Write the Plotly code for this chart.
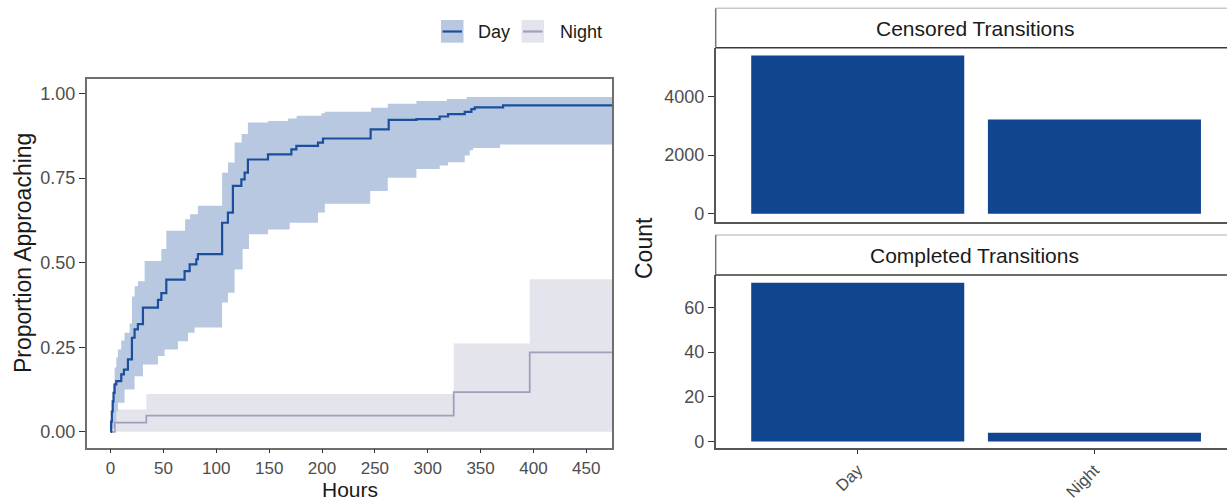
import plotly.graph_objects as go

# ---- Kaplan-Meier style cumulative curves (hours, proportion approaching) ----
day_t = [0, 0.5, 1.2, 2.0, 2.8, 3.8, 5.4, 10.1, 12.6, 16.4, 20.2, 22.7, 25.8, 30.6, 44.8,
         48.0, 52.7, 70.0, 74.8, 81.1, 82.6, 105.5, 111.0, 115.7, 123.7, 126.8, 129.9,
         148.9, 171.0, 175.7, 196.2, 200.9, 246.0, 263.1, 289.3, 311.3, 319.2, 335.0,
         341.3, 344.5, 371.3]
day_p = [0.0, 0.03, 0.06, 0.09, 0.115, 0.14, 0.15, 0.17, 0.184, 0.214, 0.278, 0.303, 0.318,
         0.367, 0.39, 0.41, 0.45, 0.475, 0.495, 0.51, 0.525, 0.618, 0.648, 0.727, 0.746,
         0.766, 0.805, 0.82, 0.835, 0.845, 0.855, 0.867, 0.894, 0.922, 0.924, 0.932, 0.939,
         0.946, 0.954, 0.959, 0.965]

day_hi_t = [0.5, 1.2, 2.2, 3.8, 5.4, 6.9, 10.0, 13.2, 18.0, 20.2, 22.7, 25.8, 32.2, 48.0,
            52.7, 70.5, 75.2, 82.6, 105.5, 111.0, 117.3, 124.0, 129.9, 148.9, 168.0, 176.0,
            199.4, 202.7, 246.4, 262.2, 289.3, 318.0, 336.8]
day_hi = [0.04, 0.09, 0.14, 0.19, 0.22, 0.243, 0.27, 0.293, 0.32, 0.40, 0.43, 0.445, 0.505,
          0.54, 0.594, 0.628, 0.643, 0.668, 0.766, 0.796, 0.855, 0.88, 0.914, 0.919, 0.926,
          0.934, 0.942, 0.946, 0.958, 0.97, 0.978, 0.984, 0.99]

day_lo_t = [0.5, 2.2, 3.8, 5.4, 6.9, 13.2, 22.7, 30.6, 44.8, 51.1, 63.7, 73.2, 79.5, 105.5,
            111.0, 117.3, 124.9, 130.9, 148.9, 169.4, 196.2, 202.7, 245.6, 262.2, 289.3,
            311.3, 319.2, 335.0, 339.7, 342.9, 368.5]
day_lo = [0.0, 0.01, 0.03, 0.06, 0.086, 0.125, 0.164, 0.199, 0.224, 0.243, 0.268, 0.293,
          0.308, 0.382, 0.411, 0.48, 0.54, 0.584, 0.598, 0.618, 0.648, 0.674, 0.712, 0.751,
          0.777, 0.787, 0.797, 0.817, 0.832, 0.839, 0.849]

night_t = [0, 4.0, 33.8, 324.6, 396.5]
night_p = [0.0, 0.027, 0.048, 0.117, 0.235]
night_ci_t = [3.5, 33.8, 324.6, 396.5]
night_hi = [0.066, 0.112, 0.261, 0.451]
night_lo = [0.0, 0.0, 0.0, 0.0]

follow_up_end = 480  # last follow-up hour, curves stay flat until here

# ---- transition counts ----
groups = ["Day", "Night"]
censored_counts = [5390, 3210]
completed_counts = [71, 4]

DAY_LINE = "#1b4f9c"
DAY_BAND = "#b8c8e0"
NIGHT_LINE = "#a29fbd"
NIGHT_BAND = "#e3e4ec"
BAR = "#12458f"
FONT = "Liberation Sans, Arial, sans-serif"
TICK_COL = "#4d4d4d"

W, H = 1227, 501


def px(x):
    return x / W


def py(y):
    return 1 - y / H


def ext(ts, vs):
    return list(ts) + [follow_up_end], list(vs) + [vs[-1]]


fig = go.Figure()

# confidence ribbons (lower edge first, upper filled to it)
for lo_t, lo, hi_t, hi, col in [
    (night_ci_t, night_lo, night_ci_t, night_hi, NIGHT_BAND),
    (day_lo_t, day_lo, day_hi_t, day_hi, DAY_BAND),
]:
    x0, y0 = ext(lo_t, lo)
    x1, y1 = ext(hi_t, hi)
    fig.add_trace(go.Scatter(x=x0, y=y0, mode="lines", line=dict(width=0, shape="hv"),
                             showlegend=False, hoverinfo="skip", xaxis="x", yaxis="y"))
    fig.add_trace(go.Scatter(x=x1, y=y1, mode="lines", line=dict(width=0, shape="hv"),
                             fill="tonexty", fillcolor=col, showlegend=False,
                             hoverinfo="skip", xaxis="x", yaxis="y"))

# step curves
for ts, ps, col, w, name in [(night_t, night_p, NIGHT_LINE, 1.8, "Night"),
                             (day_t, day_p, DAY_LINE, 2.2, "Day")]:
    xs, ys = ext(ts, ps)
    fig.add_trace(go.Scatter(x=xs, y=ys, mode="lines", name=name,
                             line=dict(color=col, width=w, shape="hv"),
                             showlegend=False, xaxis="x", yaxis="y"))

# bar panels
fig.add_trace(go.Bar(x=groups, y=censored_counts, width=0.9, marker=dict(color=BAR, line=dict(width=0)),
                     showlegend=False, xaxis="x2", yaxis="y2"))
fig.add_trace(go.Bar(x=groups, y=completed_counts, width=0.9, marker=dict(color=BAR, line=dict(width=0)),
                     showlegend=False, xaxis="x3", yaxis="y3"))

tickfont = dict(family=FONT, size=18, color=TICK_COL)
common = dict(showgrid=False, zeroline=False, automargin=False)

fig.update_layout(
    width=W, height=H,
    margin=dict(l=0, r=0, t=0, b=0, autoexpand=False),
    paper_bgcolor="white", plot_bgcolor="white",
    font=dict(family=FONT),
    showlegend=False,
    xaxis=dict(domain=[px(86.7), px(612.3)], range=[-22.6, 474.6],
               tickmode="array", tickvals=list(range(0, 451, 50)),
               ticks="outside", ticklen=4, tickwidth=1.4, tickcolor="#333",
               tickfont=dict(family=FONT, size=17, color=TICK_COL),
               showline=True, mirror=True, linecolor="#6e6e6e",
               linewidth=1.5, anchor="y", **common),
    yaxis=dict(domain=[py(447.7), py(79.3)], range=[-0.047, 1.042],
               tickmode="array", tickvals=[0, 0.25, 0.5, 0.75, 1.0],
               ticktext=["0.00", "0.25", "0.50", "0.75", "1.00"],
               ticks="outside", ticklen=6, tickwidth=1.4, tickcolor="#333",
               tickfont=tickfont, showline=True, mirror=True, linecolor="#6e6e6e",
               linewidth=1.5, anchor="x", **common),
    xaxis2=dict(domain=[px(715.7), 1.0], range=[-0.6, 1.56], type="category",
                showticklabels=False, ticks="", showline=True, linecolor="#555",
                linewidth=1.5, anchor="y2", **common),
    yaxis2=dict(domain=[py(221.7), py(47.7)], range=[-269.5, 5659.5],
                tickmode="array", tickvals=[0, 2000, 4000],
                ticks="outside", ticklen=6, tickwidth=1.4, tickcolor="#333",
                tickfont=tickfont, showline=True, linecolor="#555", linewidth=1.5,
                anchor="x2", **common),
    xaxis3=dict(domain=[px(715.7), 1.0], range=[-0.6, 1.56], type="category",
                tickangle=-45, ticks="outside", ticklen=4, tickwidth=1.4, tickcolor="#333",
                tickfont=dict(family=FONT, size=16.5, color=TICK_COL),
                showline=True, linecolor="#555", linewidth=1.5,
                anchor="y3", **common),
    yaxis3=dict(domain=[py(448.3), py(275)], range=[-3.0, 74.5],
                tickmode="array", tickvals=[0, 20, 40, 60],
                ticks="outside", ticklen=6, tickwidth=1.4, tickcolor="#333",
                tickfont=tickfont, showline=True, linecolor="#555", linewidth=1.5,
                anchor="x3", **common),
)

shapes = []
# facet strips
for top, bot in [(8.3, 47.7), (235.0, 275.0)]:
    shapes.append(dict(type="rect", xref="paper", yref="paper", x0=px(715.7), x1=1.01,
                       y0=py(bot), y1=py(top), fillcolor="white", line=dict(width=0), layer="below"))
    shapes.append(dict(type="line", xref="paper", yref="paper", x0=px(715.7), x1=1.01,
                       y0=py(top), y1=py(top), line=dict(color="#c9c9c9", width=1.5)))
    shapes.append(dict(type="line", xref="paper", yref="paper", x0=px(715.7), x1=px(715.7),
                       y0=py(bot), y1=py(top), line=dict(color="#777", width=1.5)))
    shapes.append(dict(type="line", xref="paper", yref="paper", x0=px(715.7), x1=1.01,
                       y0=py(bot), y1=py(bot), line=dict(color="#3a3a3a", width=1.6)))

# legend keys
for x0, band, line in [(441, DAY_BAND, DAY_LINE), (521.5, NIGHT_BAND, NIGHT_LINE)]:
    shapes.append(dict(type="rect", xref="paper", yref="paper", x0=px(x0), x1=px(x0 + 22.5),
                       y0=py(42.7), y1=py(20), fillcolor=band, line=dict(width=0)))
    shapes.append(dict(type="line", xref="paper", yref="paper", x0=px(x0 + 1.5), x1=px(x0 + 21),
                       y0=py(31.5), y1=py(31.5), line=dict(color=line, width=2.2)))

fig.update_layout(shapes=shapes)

ann = [
    dict(text="Proportion Approaching", x=px(23), y=py(253), textangle=-90, size=23),
    dict(text="Hours", x=px(350), y=py(489.5), size=21),
    dict(text="Count", x=px(644), y=py(248), textangle=-90, size=23),
    dict(text="Censored Transitions", x=px(974.5), y=py(28), size=21),
    dict(text="Completed Transitions", x=px(974.5), y=py(255), size=21),
]
annotations = []
for a in ann:
    annotations.append(dict(text=a["text"], x=a["x"], y=a["y"], xref="paper", yref="paper",
                            showarrow=False, xanchor="center", yanchor="middle",
                            textangle=a.get("textangle", 0),
                            font=dict(family=FONT, size=a["size"], color="#1a1a1a")))
for label, x0 in [("Day", 476), ("Night", 557.5)]:
    annotations.append(dict(text=label, x=px(x0), y=py(32), xref="paper", yref="paper",
                            showarrow=False, xanchor="left", yanchor="middle",
                            font=dict(family=FONT, size=18, color="#1a1a1a")))
fig.update_layout(annotations=annotations)

fig.write_html("out.html", config={"displayModeBar": False})
